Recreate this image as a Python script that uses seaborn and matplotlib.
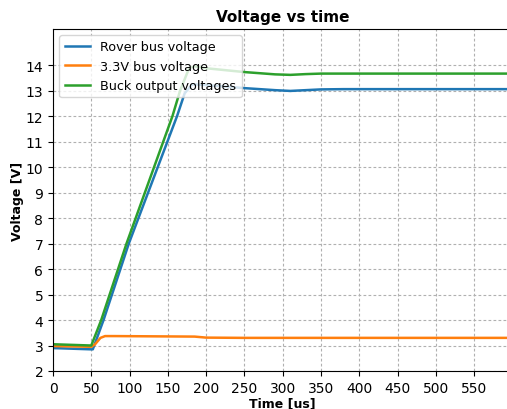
import matplotlib
matplotlib.use("Agg")
import matplotlib.pyplot as plt
import seaborn as sns
import pandas as pd

# Data
rover_t = [0, 50, 52, 66, 99, 162, 172, 182, 200, 250, 290, 310, 330, 350, 380, 600]
rover_v = [2.9, 2.85, 2.85, 4.0, 7.0, 12.0, 12.9, 13.25, 13.22, 13.1, 13.02, 12.99, 13.02, 13.05, 13.06, 13.06]

bus33_t = [0, 50, 55, 62, 68, 80, 185, 200, 250, 600]
bus33_v = [2.98, 2.95, 3.05, 3.3, 3.37, 3.37, 3.35, 3.31, 3.30, 3.30]

buck_t = [0, 50, 63, 96, 156, 166, 178, 186, 200, 250, 290, 310, 330, 350, 380, 600]
buck_v = [3.05, 3.0, 4.0, 7.0, 12.0, 13.0, 13.9, 13.95, 13.88, 13.73, 13.64, 13.62, 13.65, 13.67, 13.67, 13.67]

series_names = ["Rover bus voltage", "3.3V bus voltage", "Buck output voltages"]
colors = ["#1f77b4", "#ff7f0e", "#2ca02c"]

frames = []
for name, t, v in zip(series_names, [rover_t, bus33_t, buck_t], [rover_v, bus33_v, buck_v]):
    frames.append(pd.DataFrame({"Time": t, "Voltage": v, "Series": name}))
df = pd.concat(frames, ignore_index=True)

fig = plt.figure(figsize=(5.07, 4.10), dpi=100)
ax = fig.add_axes([53 / 507, 38 / 410, 459.4 / 507, 342 / 410])

sns.lineplot(data=df, x="Time", y="Voltage", hue="Series", hue_order=series_names,
             palette=colors, linewidth=1.8, ax=ax, sort=False, estimator=None)

ax.set_xlim(0, 600)
ax.set_ylim(2, 15.42)
ax.set_xticks(range(0, 600, 50))
ax.set_yticks(range(2, 15, 1))
ax.grid(True, linestyle=(0, (2.5, 2)), color="#b0b0b0", linewidth=0.8)
ax.set_axisbelow(True)

ax.set_title("Voltage vs time", fontweight="bold", fontsize=11)
ax.set_xlabel("Time [us]", fontweight="bold", fontsize=9, labelpad=1)
ax.set_ylabel("Voltage [V]", fontweight="bold", fontsize=9, labelpad=1)

leg = ax.legend(loc="upper left", fontsize=9.2)
for line in leg.get_lines():
    line.set_linewidth(1.8)

fig.savefig("out.png", dpi=100)
